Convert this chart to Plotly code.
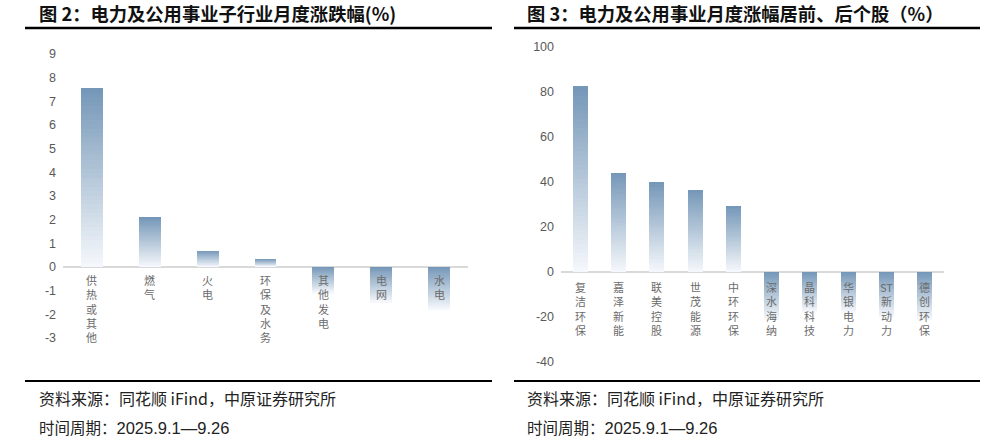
import plotly.graph_objects as go

W, H = 999, 441

# ---------------- data ----------------
left_title = "图 2：电力及公用事业子行业月度涨跌幅(%)"
right_title = "图 3：电力及公用事业月度涨幅居前、后个股（%）"
source_text = "资料来源：同花顺 iFind，中原证券研究所"
period_label = "时间周期："
period_value = "2025.9.1—9.26"

left_categories = ["供热或其他", "燃气", "火电", "环保及水务", "其他发电", "电网", "水电"]
left_values = [7.55, 2.1, 0.69, 0.34, -1.1, -1.5, -1.8]
left_ticks = [-3, -2, -1, 0, 1, 2, 3, 4, 5, 6, 7, 8, 9]

right_categories = ["复洁环保", "嘉泽新能", "联美控股", "世茂能源", "中环环保",
                    "深水海纳", "晶科科技", "华银电力", "ST新动力", "德创环保"]
right_values = [82.5, 44.0, 39.9, 36.6, 29.3, -21.0, -18.0, -18.0, -20.0, -21.0]
right_ticks = [-40, -20, 0, 20, 40, 60, 80, 100]

# ---------------- style ----------------
DARK = (0x76, 0x98, 0xB8)
LIGHT = (0xF4, 0xF7, 0xFB)
N = 40
TICK_COLOR = "#595959"
LABEL_COLOR = "#6B6B6B"
CJK = "Noto Sans CJK SC"
NUM = "Liberation Sans, Arial, sans-serif"


def mix(t):
    r = [round(DARK[i] + (LIGHT[i] - DARK[i]) * t) for i in range(3)]
    return f"rgb({r[0]},{r[1]},{r[2]})"


def px_x(p):
    return p / W


def px_y(p):
    return 1 - p / H


fig = go.Figure()


def add_gradient_bars(cats, vals, xa, ya, width):
    for k in range(N):
        t = k / (N - 1)
        ys = [v * (N - k) / N for v in vals]
        bases = [0 if v >= 0 else v * k / N for v in vals]
        fig.add_trace(go.Bar(
            x=cats, y=ys, base=bases, width=width,
            marker=dict(color=mix(t), line=dict(width=0)),
            xaxis=xa, yaxis=ya, hoverinfo="skip", showlegend=False,
        ))


add_gradient_bars(left_categories, left_values, "x", "y", 0.38)
add_gradient_bars(right_categories, right_values, "x2", "y2", 0.39)

annotations = []


def vertical_text(label):
    tokens = []
    buf = ""
    for ch in label:
        if ch.isascii():
            buf += ch
        else:
            if buf:
                tokens.append(buf)
                buf = ""
            tokens.append(ch)
    if buf:
        tokens.append(buf)
    return "<br>".join(tokens)


def add_cat_labels(cats, xref, yref, shift):
    for c in cats:
        annotations.append(dict(
            x=c, y=0, xref=xref, yref=yref, text=vertical_text(c), showarrow=False,
            xanchor="center", yanchor="top", yshift=-shift, align="center",
            font=dict(family=CJK, size=11, color=LABEL_COLOR),
        ))


add_cat_labels(left_categories, "x", "y", 3)
add_cat_labels(right_categories, "x2", "y2", 5)

# titles and notes
for x0, title in [(37, left_title), (525, right_title)]:
    annotations.append(dict(
        x=px_x(x0), y=px_y(13), xref="paper", yref="paper", text=f"<b>{title}</b>",
        showarrow=False, xanchor="left", yanchor="middle",
        font=dict(family=CJK, size=18.3, color="#111111"),
    ))
for x0 in [37, 525]:
    annotations.append(dict(
        x=px_x(x0), y=px_y(398), xref="paper", yref="paper", text=source_text,
        showarrow=False, xanchor="left", yanchor="middle",
        font=dict(family=CJK, size=16, color="#222222"),
    ))
    annotations.append(dict(
        x=px_x(x0), y=px_y(427), xref="paper", yref="paper",
        text=period_label + f"<span style='font-family:Liberation Sans;font-size:16.5px'>{period_value}</span>",
        showarrow=False, xanchor="left", yanchor="middle",
        font=dict(family=CJK, size=15.5, color="#222222"),
    ))

shapes = []
for (a, b) in [(25, 492), (514, 980)]:
    shapes.append(dict(type="line", xref="paper", yref="paper",
                       x0=px_x(a), x1=px_x(b), y0=px_y(28), y1=px_y(28),
                       line=dict(color="#000000", width=2.4)))
    shapes.append(dict(type="line", xref="paper", yref="paper",
                       x0=px_x(a), x1=px_x(b), y0=px_y(381), y1=px_y(381),
                       line=dict(color="#000000", width=2.2)))

axis_common = dict(showgrid=False, showline=False, ticks="", automargin=False)

fig.update_layout(
    width=W, height=H,
    margin=dict(l=0, r=0, t=0, b=0, pad=0, autoexpand=False),
    paper_bgcolor="white", plot_bgcolor="white",
    barmode="overlay", bargap=0,
    showlegend=False,
    annotations=annotations, shapes=shapes,
    xaxis=dict(domain=[px_x(63), px_x(468)], type="category",
               categoryorder="array", categoryarray=left_categories,
               range=[-0.5, len(left_categories) - 0.5],
               showticklabels=False, zeroline=False, anchor="y", **axis_common),
    yaxis=dict(domain=[px_y(338), px_y(54)], range=[-3, 9],
               tickmode="array", tickvals=left_ticks,
               ticktext=[str(v) for v in left_ticks],
               tickfont=dict(family=NUM, size=12.5, color=TICK_COLOR),
               ticklabelstandoff=6,
               zeroline=True, zerolinecolor="#D9D9D9", zerolinewidth=1.5,
               anchor="x", **axis_common),
    xaxis2=dict(domain=[px_x(561), px_x(944)], type="category",
                categoryorder="array", categoryarray=right_categories,
                range=[-0.5, len(right_categories) - 0.5],
                showticklabels=False, zeroline=False, anchor="y2", **axis_common),
    yaxis2=dict(domain=[px_y(362), px_y(47)], range=[-40, 100],
                tickmode="array", tickvals=right_ticks,
                ticktext=[str(v) for v in right_ticks],
                tickfont=dict(family=NUM, size=12.5, color=TICK_COLOR),
                ticklabelstandoff=6,
                zeroline=True, zerolinecolor="#D9D9D9", zerolinewidth=1.5,
                anchor="x2", **axis_common),
)

fig.write_html("out.html", config={"displayModeBar": False},
               post_script="document.body.style.margin='0';")
